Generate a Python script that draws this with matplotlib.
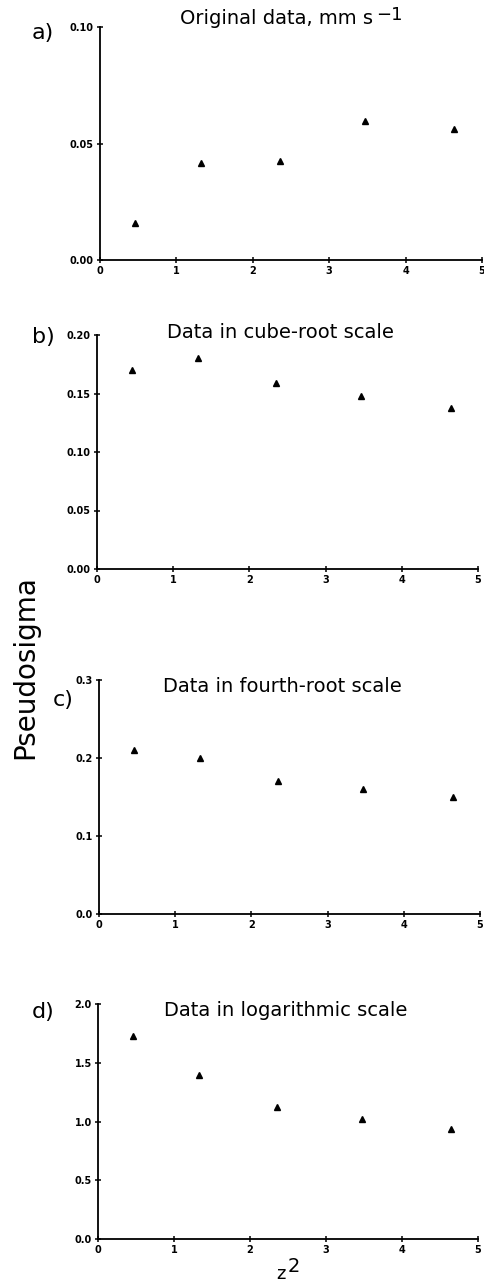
import matplotlib
matplotlib.use("Agg")
import matplotlib.pyplot as plt

# ---- data ----
z2 = [0.455, 1.323, 2.354, 3.470, 4.640]
orig = [0.016, 0.0415, 0.0425, 0.0597, 0.0562]
cube_root = [0.170, 0.180, 0.159, 0.148, 0.138]
fourth_root = [0.210, 0.200, 0.170, 0.160, 0.150]
logarithmic = [1.724, 1.398, 1.126, 1.024, 0.939]

x_ticks = [0, 1, 2, 3, 4, 5]
a_ticks = [0.00, 0.05, 0.10]
a_labels = ["0.00", "0.05", "0.10"]
b_ticks = [0.00, 0.05, 0.10, 0.15, 0.20]
b_labels = ["0.00", "0.05", "0.10", "0.15", "0.20"]
c_ticks = [0.0, 0.1, 0.2, 0.3]
c_labels = ["0.0", "0.1", "0.2", "0.3"]
d_ticks = [0.0, 0.5, 1.0, 1.5, 2.0]
d_labels = ["0.0", "0.5", "1.0", "1.5", "2.0"]

titles = ["Original data, mm s", "Data in cube-root scale",
          "Data in fourth-root scale", "Data in logarithmic scale"]
panel_letters = ["a)", "b)", "c)", "d)"]

W, H = 485, 1286
fig = plt.figure(figsize=(W / 100, H / 100), dpi=100)

# axes boxes in pixels: left, right, top, bottom
boxes = [(100, 482, 27, 260), (97, 478, 335, 569), (99, 480, 680, 914), (98, 478, 1004, 1239)]
series = [orig, cube_root, fourth_root, logarithmic]
yt = [(a_ticks, a_labels), (b_ticks, b_labels), (c_ticks, c_labels), (d_ticks, d_labels)]
title_y = [19, 333, 686, 1011]
title_x = [180, 167, 163, 164]
letter_pos = [(43, 33), (43, 337), (63, 700), (43, 1012)]

def fx(px):
    return px / W

def fy(py):
    return 1 - py / H

for i in range(4):
    l, r, t, b = boxes[i]
    ax = fig.add_axes([fx(l), fy(b), (r - l) / W, (b - t) / H])
    ax.plot(z2, series[i], linestyle="none", marker="^", markersize=4.2, color="black")
    ticks, labels = yt[i]
    ax.set_xlim(0, 5)
    ax.set_ylim(ticks[0], ticks[-1])
    ax.set_xticks(x_ticks)
    ax.set_xticklabels([str(v) for v in x_ticks])
    ax.set_yticks(ticks)
    ax.set_yticklabels(labels)
    for s in ["top", "right"]:
        ax.spines[s].set_visible(False)
    for s in ["left", "bottom"]:
        ax.spines[s].set_linewidth(1.3)
        ax.spines[s].set_clip_on(False)
    ax.tick_params(direction="inout", length=5, width=1.1, labelsize=7, pad=2)
    for lab in ax.get_xticklabels() + ax.get_yticklabels():
        lab.set_fontweight("bold")
    fig.text(fx(title_x[i]), fy(title_y[i]), titles[i], ha="left", va="center",
             fontsize=14, color="black")
    lx, ly = letter_pos[i]
    fig.text(fx(lx), fy(ly), panel_letters[i], ha="center", va="center",
             fontsize=16, color="black")

# superscript -1 on the first title
fig.canvas.draw()
t0 = [t for t in fig.texts if t.get_text() == titles[0]][0]
bb = t0.get_window_extent(renderer=fig.canvas.get_renderer())
fig.text(bb.x1 / W + 3 / W, fy(title_y[0] - 4), "\u22121", ha="left", va="center",
         fontsize=13, color="black")

fig.text(fx(25), fy(667), "Pseudosigma", rotation=90, ha="center", va="center",
         fontsize=20, color="black")
fig.text(fx(281), fy(1274), "z", ha="center", va="center", fontsize=13, color="black")
fig.text(fx(294), fy(1266), "2", ha="center", va="center", fontsize=14, color="black")

fig.savefig("out.png", dpi=100)
